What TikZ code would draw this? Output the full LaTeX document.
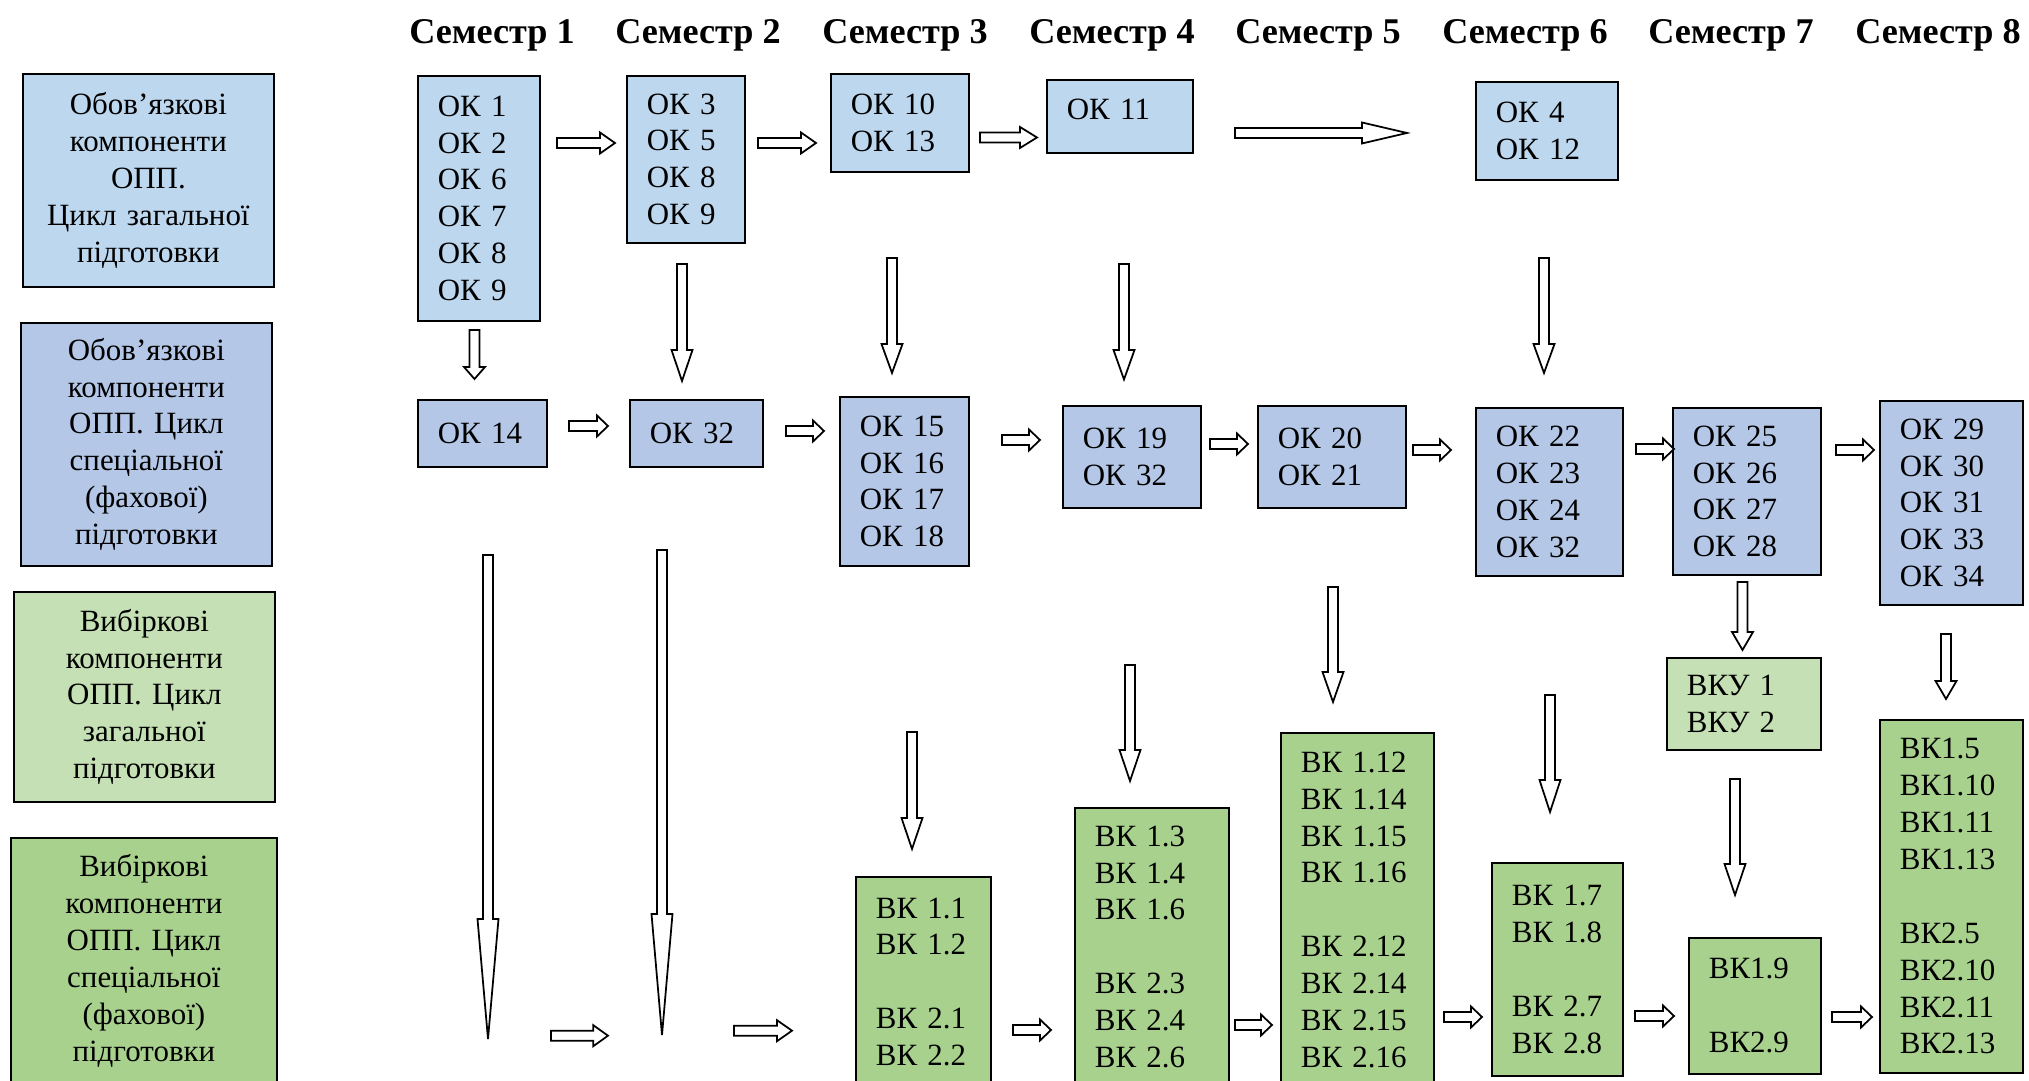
\documentclass[tikz,border=0pt]{standalone}
\usepackage{fontspec}
\setmainfont{Liberation Serif}
\usepackage{tikz}
\usetikzlibrary{positioning}
\definecolor{okz}{RGB}{189,215,238}
\definecolor{oks}{RGB}{180,199,231}
\definecolor{vkz}{RGB}{197,224,180}
\definecolor{vks}{RGB}{169,209,142}
\tikzset{>=latex}
\tikzset{
  kbox/.style={draw, line width=0.5pt, anchor=north west, inner xsep=0.2cm, inner ysep=0pt, align=left, font=\fontsize{8.8}{10.5}\selectfont},
  lbox/.style={kbox, align=center},
  sem/.style={anchor=base, font=\bfseries\fontsize{10.3}{12}\selectfont},
  barrow/.style={draw, line width=0.5pt, fill=white}
}
\newcommand{\harrow}[4]{\draw[barrow] (#1,#3-0.05) -- (#2-#4,#3-0.05) -- (#2-#4,#3-0.105) -- (#2,#3) -- (#2-#4,#3+0.105) -- (#2-#4,#3+0.05) -- (#1,#3+0.05) -- cycle;}
\newcommand{\varrow}[4]{\draw[barrow] (#1-0.05,#2) -- (#1-0.05,#3-#4) -- (#1-0.105,#3-#4) -- (#1,#3) -- (#1+0.105,#3-#4) -- (#1+0.05,#3-#4) -- (#1+0.05,#2) -- cycle;}

\begin{document}
\begin{tikzpicture}[x=1cm,y=-1cm]
      \useasboundingbox (0,0) rectangle (20.29,10.81);
      \node[sem] (s1) at (4.92,0.44) {Семестр 1};
      \node[sem] (s2) at (6.98,0.44) {Семестр 2};
      \node[sem] (s3) at (9.05,0.44) {Семестр 3};
      \node[sem] (s4) at (11.12,0.44) {Семестр 4};
      \node[sem] (s5) at (13.18,0.44) {Семестр 5};
      \node[sem] (s6) at (15.25,0.44) {Семестр 6};
      \node[sem] (s7) at (17.31,0.44) {Семестр 7};
      \node[sem] (s8) at (19.38,0.44) {Семестр 8};
      \node[lbox, fill=okz, text width=2.11cm, minimum height=2.13cm] (l1) at (0.22,0.73) {Обов’язкові\\компоненти\\ОПП.\\Цикл загальної\\підготовки};
      \node[lbox, fill=oks, text width=2.11cm, minimum height=2.43cm] (l2) at (0.20,3.22) {Обов’язкові\\компоненти\\ОПП. Цикл\\спеціальної\\(фахової)\\підготовки};
      \node[lbox, fill=vkz, text width=2.21cm, minimum height=2.10cm] (l3) at (0.13,5.91) {Вибіркові\\компоненти\\ОПП. Цикл\\загальної\\підготовки};
      \node[lbox, fill=vks, text width=2.26cm, minimum height=2.46cm] (l4) at (0.10,8.37) {Вибіркові\\компоненти\\ОПП. Цикл\\спеціальної\\(фахової)\\підготовки};
      \node[kbox, fill=okz, text width=0.82cm, minimum height=2.45cm] (ok1) at (4.17,0.75) {ОК 1\\ОК 2\\ОК 6\\ОК 7\\ОК 8\\ОК 9};
      \node[kbox, fill=okz, text width=0.78cm, minimum height=1.67cm] (ok3) at (6.26,0.75) {ОК 3\\ОК 5\\ОК 8\\ОК 9};
      \node[kbox, fill=okz, text width=0.98cm, minimum height=0.98cm] (ok10) at (8.30,0.73) {ОК 10\\ОК 13};
      \node[kbox, fill=okz, text width=1.06cm, minimum height=0.73cm, text depth=0.14cm] (ok11) at (10.46,0.79) {ОК 11};
      \node[kbox, fill=okz, text width=1.02cm, minimum height=0.98cm] (ok4) at (14.75,0.81) {ОК 4\\ОК 12};
      \node[kbox, fill=oks, text width=0.89cm, minimum height=0.67cm] (ok14) at (4.17,3.99) {ОК 14};
      \node[kbox, fill=oks, text width=0.93cm, minimum height=0.67cm] (ok32) at (6.29,3.99) {ОК 32};
      \node[kbox, fill=oks, text width=0.89cm, minimum height=1.69cm] (ok15) at (8.39,3.96) {ОК 15\\ОК 16\\ОК 17\\ОК 18};
      \node[kbox, fill=oks, text width=0.98cm, minimum height=1.02cm] (ok19) at (10.62,4.05) {ОК 19\\ОК 32};
      \node[kbox, fill=oks, text width=1.08cm, minimum height=1.02cm] (ok20) at (12.57,4.05) {ОК 20\\ОК 21};
      \node[kbox, fill=oks, text width=1.07cm, minimum height=1.68cm] (ok22) at (14.75,4.07) {ОК 22\\ОК 23\\ОК 24\\ОК 32};
      \node[kbox, fill=oks, text width=1.08cm, minimum height=1.67cm] (ok25) at (16.72,4.07) {ОК 25\\ОК 26\\ОК 27\\ОК 28};
      \node[kbox, fill=oks, text width=1.03cm, minimum height=2.04cm] (ok29) at (18.79,4.00) {ОК 29\\ОК 30\\ОК 31\\ОК 33\\ОК 34};
      \node[kbox, fill=vks, text width=0.95cm, minimum height=2.10cm] (vk11) at (8.55,8.76) {ВК 1.1\\ВК 1.2\\[10.5pt]ВК 2.1\\ВК 2.2};
      \node[kbox, fill=vks, text width=1.14cm, minimum height=2.78cm] (vk13) at (10.74,8.07) {ВК 1.3\\ВК 1.4\\ВК 1.6\\[10.5pt]ВК 2.3\\ВК 2.4\\ВК 2.6};
      \node[kbox, fill=vks, text width=1.13cm, minimum height=3.54cm] (vk112) at (12.80,7.32) {ВК 1.12\\ВК 1.14\\ВК 1.15\\ВК 1.16\\[10.5pt]ВК 2.12\\ВК 2.14\\ВК 2.15\\ВК 2.16};
      \node[kbox, fill=vks, text width=0.91cm, minimum height=2.13cm] (vk17) at (14.91,8.62) {ВК 1.7\\ВК 1.8\\[10.5pt]ВК 2.7\\ВК 2.8};
      \node[kbox, fill=vkz, text width=1.14cm, minimum height=0.92cm] (vku) at (16.66,6.57) {ВКУ 1\\ВКУ 2};
      \node[kbox, fill=vks, text width=0.92cm, minimum height=1.36cm] (vk19) at (16.88,9.37) {ВК1.9\\[10.5pt]ВК2.9};
      \node[kbox, fill=vks, text width=1.03cm, minimum height=3.53cm] (vk15) at (18.79,7.19) {ВК1.5\\ВК1.10\\ВК1.11\\ВК1.13\\[10.5pt]ВК2.5\\ВК2.10\\ВК2.11\\ВК2.13};
      \harrow{5.57}{6.15}{1.43}{0.15}
      \harrow{7.58}{8.16}{1.43}{0.15}
      \harrow{9.80}{10.37}{1.375}{0.17}
      \harrow{12.35}{14.07}{1.33}{0.45}
      \varrow{4.745}{3.30}{3.79}{0.12}
      \varrow{6.82}{2.64}{3.81}{0.31}
      \varrow{8.92}{2.58}{3.73}{0.29}
      \varrow{11.24}{2.64}{3.795}{0.295}
      \varrow{15.44}{2.58}{3.73}{0.29}
      \harrow{5.69}{6.08}{4.26}{0.11}
      \harrow{7.86}{8.24}{4.31}{0.11}
      \harrow{10.02}{10.40}{4.40}{0.11}
      \harrow{12.10}{12.48}{4.44}{0.11}
      \harrow{14.13}{14.51}{4.50}{0.11}
      \harrow{16.36}{16.74}{4.49}{0.11}
      \harrow{18.36}{18.74}{4.50}{0.11}
      \varrow{4.88}{5.55}{10.39}{1.20}
      \varrow{6.62}{5.50}{10.35}{1.21}
      \harrow{5.51}{6.08}{10.357}{0.147}
      \harrow{7.34}{7.92}{10.307}{0.15}
      \varrow{9.12}{7.32}{8.49}{0.31}
      \varrow{11.30}{6.65}{7.81}{0.31}
      \varrow{13.33}{5.87}{7.02}{0.30}
      \varrow{15.50}{6.95}{8.12}{0.32}
      \varrow{17.425}{5.82}{6.50}{0.18}
      \varrow{17.35}{7.79}{8.95}{0.31}
      \varrow{19.46}{6.34}{6.99}{0.18}
      \harrow{10.13}{10.51}{10.30}{0.11}
      \harrow{12.35}{12.72}{10.25}{0.11}
      \harrow{14.44}{14.82}{10.17}{0.11}
      \harrow{16.35}{16.74}{10.16}{0.11}
      \harrow{18.32}{18.72}{10.17}{0.11}
\end{tikzpicture}
\end{document}
